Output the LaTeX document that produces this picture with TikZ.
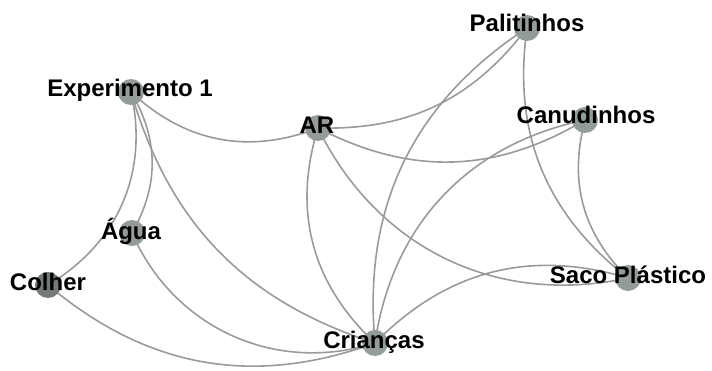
\documentclass[tikz,border=0pt]{standalone}
\usepackage{fontspec}
\setmainfont{Liberation Sans}
\usetikzlibrary{backgrounds}
\definecolor{vtxgray}{HTML}{939C98}
\definecolor{vtxdark}{HTML}{737A77}
\definecolor{edgegray}{HTML}{9A9A9A}
\begin{document}
\begin{tikzpicture}[x=1pt,y=1pt,
  vtx/.style={circle, fill=vtxgray, inner sep=0pt, minimum size=26pt},
  lbl/.style={anchor=base, font=\fontsize{24}{28}\selectfont\bfseries, text=black, inner sep=0pt},
  link/.style={draw=edgegray, line width=1.6pt}]
\useasboundingbox (0,0) rectangle (712,370);

% vertices
\node[vtx] (exp) at (131,278) {};
\node[vtx] (ar)  at (318,242) {};
\node[vtx] (agu) at (132,137) {};
\node[vtx, fill=vtxdark] (col) at (48,85) {};
\node[vtx] (cri) at (375,27) {};
\node[vtx] (pal) at (527,342) {};
\node[vtx] (can) at (585,250) {};
\node[vtx] (sac) at (628,92) {};

% curved links, kept under the vertices
\begin{scope}[on background layer]
\draw[link] (col.center) to[bend right=36] (exp.center);
\draw[link] (agu.center) to[bend right=30] (exp.center);
\draw[link] (exp.center) to[bend right=32] (ar.center);
\draw[link] (exp.center) to[bend right=28] (cri.center);
\draw[link] (agu.center) to[bend right=42] (cri.center);
\draw[link] (col.center) to[bend right=30] (cri.center);
\draw[link] (ar.center)  to[bend right=27] (pal.center);
\draw[link] (ar.center)  to[bend right=29] (can.center);
\draw[link] (ar.center)  to[bend right=38] (sac.center);
\draw[link] (ar.center)  to[bend right=32] (cri.center);
\draw[link] (pal.center) to[bend right=31] (cri.center);
\draw[link] (pal.center) to[bend right=30] (sac.center);
\draw[link] (can.center) to[bend right=35] (cri.center);
\draw[link] (can.center) to[bend right=30] (sac.center);
\draw[link] (sac.center) to[bend right=31] (cri.center);
\end{scope}

% labels
\node[lbl] (texp) at (130,273) {Experimento 1};
\node[lbl] (tar)  at (317,236) {AR};
\node[lbl] (tagu) at (131,131) {Água};
\node[lbl] (tcol) at (48,80)   {Colher};
\node[lbl] (tcri) at (374,22)  {Crianças};
\node[lbl] (tpal) at (527,338) {Palitinhos};
\node[lbl] (tcan) at (586,246) {Canudinhos};
\node[lbl] (tsac) at (628,87)  {Saco Plástico};
\end{tikzpicture}
\end{document}
